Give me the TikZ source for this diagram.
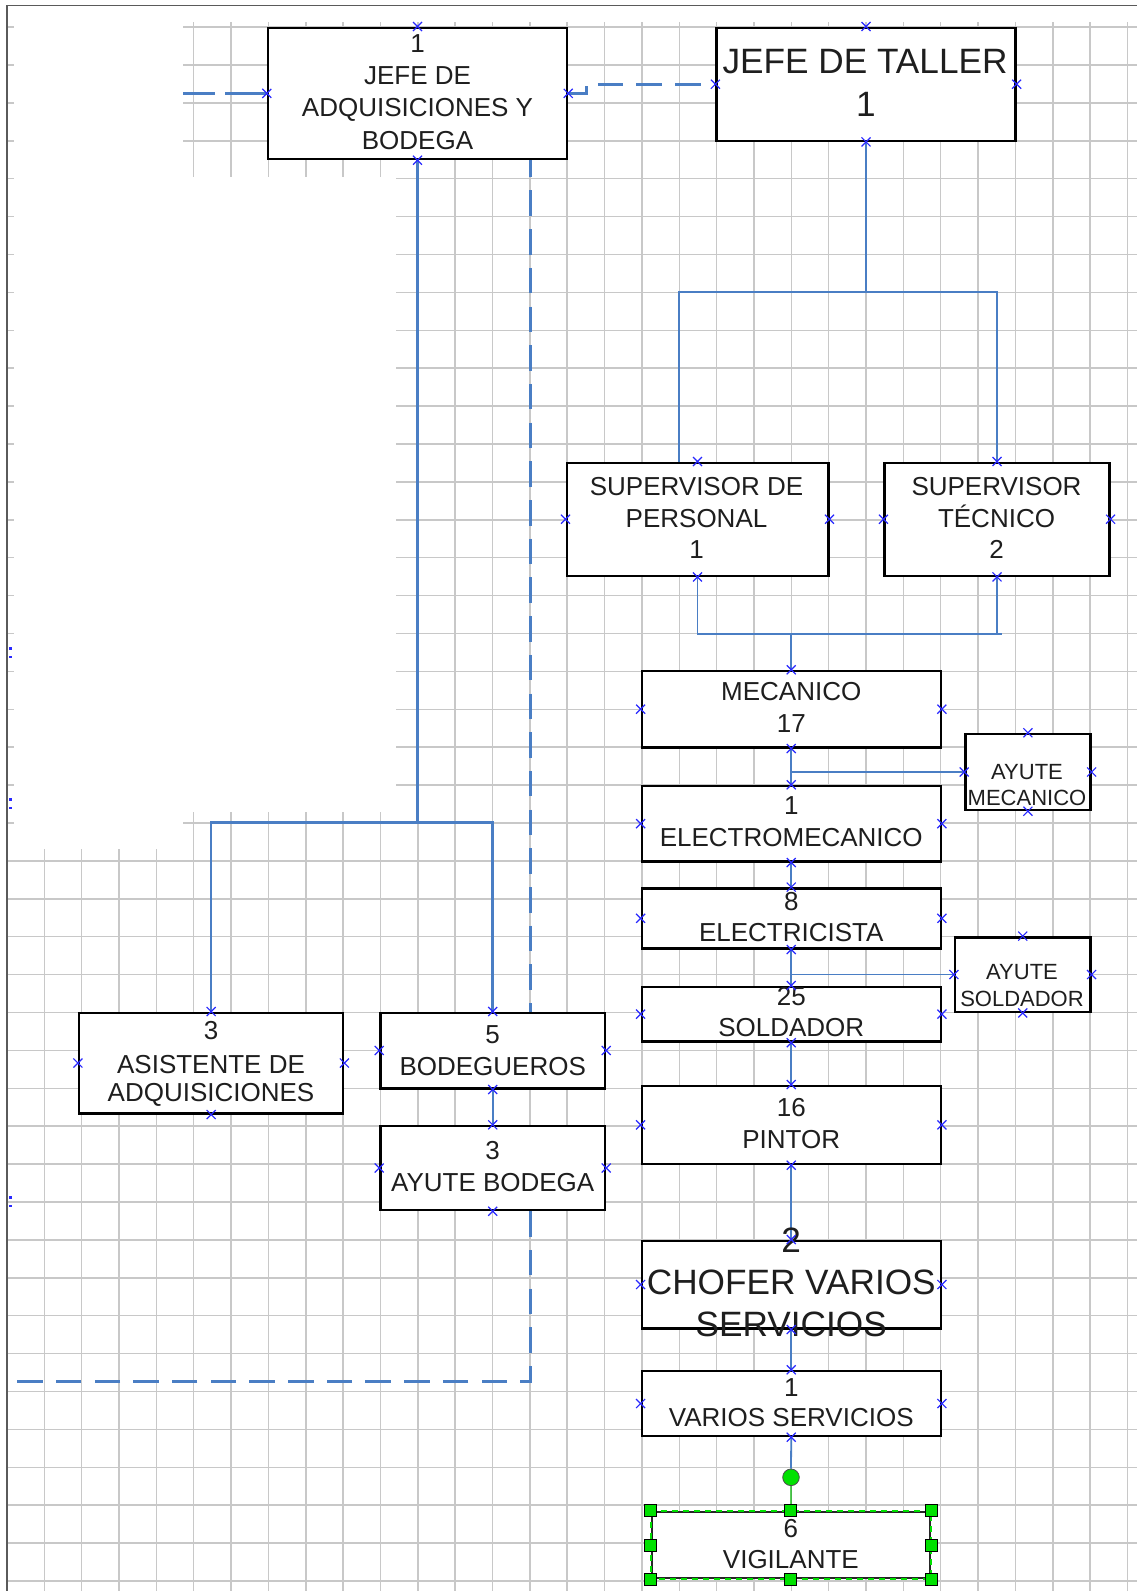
\documentclass[tikz,border=0pt]{standalone}
\usepackage{fontspec}
\setmainfont{Liberation Sans}
\pgfdeclarelayer{back}
\pgfdeclarelayer{cover}
\pgfdeclarelayer{wires}
\pgfsetlayers{back,cover,wires,main}
\definecolor{gridc}{RGB}{200,200,200}
\definecolor{connc}{RGB}{74,126,196}
\definecolor{mkc}{RGB}{40,40,255}
\definecolor{txtc}{RGB}{30,30,30}
\definecolor{hgreen}{RGB}{0,225,0}
\definecolor{framec}{RGB}{90,90,90}
\tikzset{
  xm/.pic={\draw[mkc, line width=0.6pt] (-4.5,-4.5) -- (4.5,4.5) (-4.5,4.5) -- (4.5,-4.5);},
  hd/.pic={\draw[black, line width=0.4pt, fill=hgreen] (-6,-6) rectangle (6,6);},
  box/.style={draw=black, line width=1.2pt, fill=white, inner sep=0pt, rectangle},
  ln/.style={inner sep=0pt, text height=9.31pt, text depth=0pt, anchor=center, text=txtc, font=\fontsize{13}{16}\selectfont},
  sm/.style={inner sep=0pt, text height=7.88pt, text depth=0pt, anchor=center, text=txtc, font=\fontsize{11}{13}\selectfont},
  big/.style={inner sep=0pt, text height=12.6pt, text depth=0pt, anchor=center, text=txtc, font=\fontsize{17.6}{21}\selectfont},
  bigc/.style={inner sep=0pt, text height=12.6pt, text depth=0pt, anchor=center, text=txtc, font=\fontsize{17.6}{21}\selectfont},
  wire/.style={draw=connc, line width=0.9pt},
  wirel/.style={draw=connc, line width=1.3pt},
  dashc/.style={draw=connc, line width=1.5pt, dash pattern=on 12.75pt off 6.6pt},
  dashl/.style={draw=connc, line width=1.5pt, dash pattern=on 21pt off 5pt},
  gridl/.style={draw=gridc, line width=0.75pt}
}
\begin{document}
\begin{tikzpicture}[x=0.5pt,y=-0.5pt]
\useasboundingbox (0,0) rectangle (1137,1591);

% ---------- boxes ----------
\node[box, minimum width=149.5pt, minimum height=65.65pt] (adq) at (417.5,93.35) {};
\node[box, minimum width=149.4pt, minimum height=56.5pt] (taller) at (866,84.2) {};
\node[box, minimum width=130.8pt, minimum height=56.5pt] (supp) at (697.5,519.2) {};
\node[box, minimum width=112.35pt, minimum height=56.5pt] (supt) at (997,519.2) {};
\node[box, minimum width=149.45pt, minimum height=38.15pt] (mec) at (791.25,709.15) {};
\node[box, minimum width=62.5pt, minimum height=38pt] (ayumec) at (1027.9,772) {};
\node[box, minimum width=149.45pt, minimum height=37.65pt] (elmec) at (791.25,823.65) {};
\node[box, minimum width=149.45pt, minimum height=30pt] (elec) at (791.25,918.3) {};
\node[box, minimum width=67.65pt, minimum height=37.2pt] (ayusol) at (1022.75,974.5) {};
\node[box, minimum width=149.45pt, minimum height=27.4pt] (sold) at (791.25,1014.1) {};
\node[box, minimum width=149.45pt, minimum height=39.15pt] (pint) at (791.25,1124.85) {};
\node[box, minimum width=149.45pt, minimum height=43.8pt] (chof) at (791.25,1284.5) {};
\node[box, minimum width=149.45pt, minimum height=32.5pt] (vars) at (791.25,1403.5) {};
\node[box, draw=black!85, line width=1pt, minimum width=139.15pt, minimum height=33.3pt] (vig) at (790.85,1545) {};
\node[box, minimum width=132.05pt, minimum height=50.3pt] (asis) at (211.15,1063) {};
\node[box, minimum width=112.3pt, minimum height=37.8pt] (bodg) at (492.7,1050.5) {};
\node[box, minimum width=112.3pt, minimum height=42pt] (ayubod) at (492.7,1168) {};
\node[circle, draw=black!70, line width=0.4pt, fill=hgreen, minimum size=8.3pt, inner sep=0pt] (gdot) at (791,1477.3) {};

% ---------- background, grid ----------
\begin{pgfonlayer}{back}
\fill[white] (0,0) rectangle (1137,1591);
\foreach \k in {0,...,29} \draw[gridl] ({44.3+37.35*\k},22) -- ({44.3+37.35*\k},1591);
\foreach \j in {-4,...,37} \draw[gridl] (8,{178.7+37.9*\j}) -- (1137,{178.7+37.9*\j});
\coordinate (l1) at (10,93.35);
\draw[dashl] (adq.west) -- (l1);
\end{pgfonlayer}

\begin{pgfonlayer}{cover}
\fill[white] (14,15) rectangle (182.5,849.3);
\fill[white] (14,176.7) rectangle (395.7,811.7);
\draw[framec, line width=0.7pt] (7,1591) -- (7,5.3) -- (1137,5.3);
\foreach \yy in {648.3,656.7,799.5,808,1197.3,1206}
  \fill[mkc] (9.3,{\yy-1.2}) rectangle (11.8,{\yy+1.2});
\end{pgfonlayer}

% ---------- connectors ----------
\begin{pgfonlayer}{wires}
\draw[dashc] (adq.east) -- ++(18.5,0) |- (taller.west);
\coordinate (d3a) at (530,151.7);
\coordinate (d3b) at (530,1381.7);
\coordinate (d3c) at (10,1381.7);
\draw[dashc] (d3a) -- (bodg.north -| d3a);
\draw[dashc] (ayubod.south -| d3a) -- (d3b) -- (d3c);

\coordinate (tj) at (866,292);
\coordinate (sl) at (679.3,462.7);
\draw[wire] (taller.south) -- (tj);
\draw[wire] (sl) |- (tj) -| (supt.north);

\coordinate (sj) at (791.25,634);
\draw[wire] (supp.south) |- (sj) -| (supt.south);
\draw[wire] (supt.south |- sj) -- ++(4.5,0);
\draw[wire] (sj) -- (mec.north);

\coordinate (aj) at (417.5,822.7);
\draw[wirel] (adq.south) -- (aj);
\draw[wirel] (asis.north) |- (aj) -| (bodg.north);
\draw[wire] (bodg.south) -- (ayubod.north);

\draw[wire] (mec.south) -- (elmec.north);
\draw[wire] (ayumec.west) -- (ayumec.west -| mec.south);
\draw[wire] (elmec.south) -- (elec.north);
\draw[wire] (elec.south) -- (sold.north);
\draw[wire] (ayusol.west) -- (ayusol.west -| elec.south);
\draw[wire] (sold.south) -- (pint.north);
\draw[wire] (pint.south) -- (chof.north);
\draw[wire] (chof.south) -- (vars.north);
\draw[wire] (vars.south) -- (gdot.north);
\draw[hgreen!80!black, line width=0.6pt] (gdot.south) -- (vig.north);
\end{pgfonlayer}

% ---------- texts ----------
\node[ln] (adq1) at (417.5,43) {1};
\node[ln] (adq2) at (417.5,75.5) {JEFE DE};
\node[ln] (adq3) at (417.5,107.5) {ADQUISICIONES Y};
\node[ln] (adq4) at (417.5,140) {BODEGA};

\node[big] (tal1) at (865,60.5) {JEFE DE TALLER};
\node[big] (tal2) at (866,103.7) {1};

\node[ln] (supp1) at (696.5,486) {SUPERVISOR DE};
\node[ln] (supp2) at (696.5,518) {PERSONAL};
\node[ln] (supp3) at (696.5,549.5) {1};

\node[ln] (supt1) at (996.5,486) {SUPERVISOR};
\node[ln] (supt2) at (996.5,518) {TÉCNICO};
\node[ln] (supt3) at (996.5,549.5) {2};

\node[ln] (mec1) at (791.25,691.5) {MECANICO};
\node[ln] (mec2) at (791.25,723.3) {17};

\node[sm] (ayumec1) at (1027,771.3) {AYUTE};
\node[sm] (ayumec2) at (1027,797.7) {MECANICO};

\node[ln] (elmec1) at (791.25,805.3) {1};
\node[ln] (elmec2) at (791.25,837.5) {ELECTROMECANICO};

\node[ln] (elec1) at (791.25,901) {8};
\node[ln] (elec2) at (791.25,931.8) {ELECTRICISTA};

\node[sm] (ayusol1) at (1022,971.7) {AYUTE};
\node[sm] (ayusol2) at (1022,999) {SOLDADOR};

\node[ln] (sold1) at (791.25,996.2) {25};
\node[ln] (sold2) at (791.25,1027.5) {SOLDADOR};

\node[ln] (pint1) at (791.25,1106.7) {16};
\node[ln] (pint2) at (791.25,1139.2) {PINTOR};

\node[bigc] (chof1) at (791.25,1240) {2};
\node[bigc] (chof2) at (791.25,1282) {CHOFER VARIOS};
\node[bigc] (chof3) at (791.25,1324.2) {SERVICIOS};

\node[ln] (vars1) at (791.25,1386.7) {1};
\node[ln] (vars2) at (791.25,1416.7) {VARIOS SERVICIOS};

\node[ln] (vig1) at (790.85,1528.3) {6};
\node[ln] (vig2) at (790.85,1559.2) {VIGILANTE};

\node[ln] (asis1) at (211,1030.5) {3};
\node[ln] (asis2) at (211,1064.2) {ASISTENTE DE};
\node[ln] (asis3) at (211,1092.5) {ADQUISICIONES};

\node[ln] (bodg1) at (492.7,1033.8) {5};
\node[ln] (bodg2) at (492.7,1065.8) {BODEGUEROS};

\node[ln] (ayubod1) at (492.7,1150) {3};
\node[ln] (ayubod2) at (492.7,1182.5) {AYUTE BODEGA};

% ---------- connection markers ----------
\foreach \b in {adq,taller,supp,supt,mec,ayumec,elmec,elec,ayusol,sold,pint,chof,vars,asis,bodg,ayubod}{
  \foreach \a in {north,south,east,west}{\pic at (\b.\a) {xm};}
}

% ---------- selection of VIGILANTE ----------
\draw[hgreen, line width=1pt, dash pattern=on 3pt off 2.5pt] (vig.north west) rectangle (vig.south east);
\foreach \a in {north west,north,north east,west,east,south west,south,south east}{\pic at (vig.\a) {hd};}
\end{tikzpicture}
\end{document}
